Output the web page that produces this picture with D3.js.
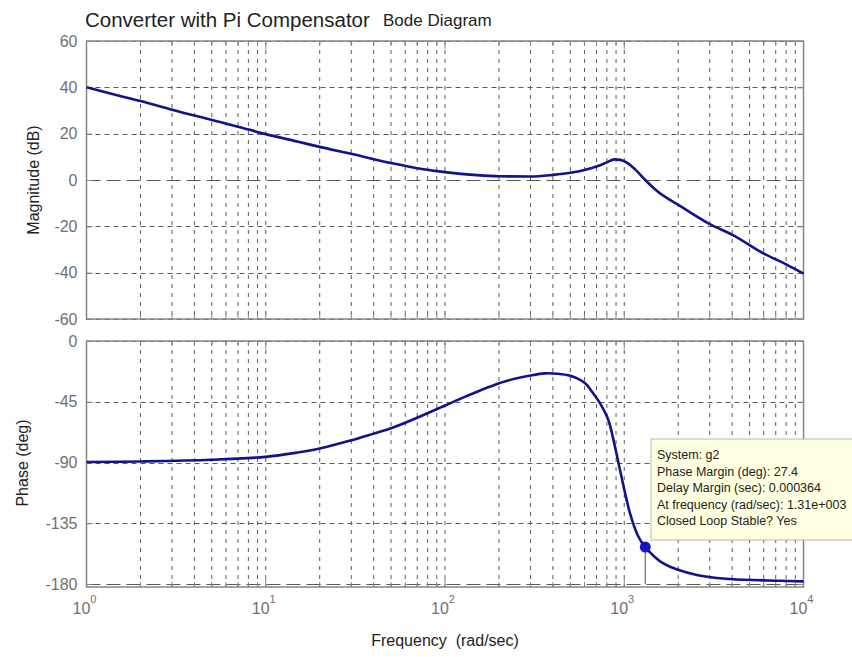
<!DOCTYPE html>
<html lang="en">
<head>
<meta charset="UTF-8">
<title>Bode Diagram</title>
<script src="https://cdn.jsdelivr.net/npm/d3@7"></script>
<style>
  body { margin: 0; background: #fff; }
  text { font-family: Arial, "Liberation Sans", sans-serif; }
</style>
</head>
<body>
<svg id="chart" width="852" height="657"></svg>
<script>
// magnitude curve
var magFreq = [1, 1.5, 2, 3, 5, 7, 10, 15, 20, 30, 50, 70, 100, 150, 200, 300, 400, 500, 600, 700, 800, 880, 950, 1050, 1150, 1310, 1500, 2056, 2945, 4064, 5980, 8000, 10000];
var magDb   = [40, 36.5, 34.1, 30.3, 25.9, 23.0, 19.8, 16.6, 14.3, 11.3, 7.3, 5.1, 3.4, 2.1, 1.6, 1.5, 2.2, 3.1, 4.3, 5.8, 7.6, 8.9, 8.7, 7.2, 4.6, 0, -4.3, -11.3, -18.7, -23.9, -31.7, -36.4, -40.4];

// phase curve
var phaseFreq = [1, 2, 5, 10, 15, 20, 30, 40, 50, 70, 100, 130, 170, 220, 300, 360, 420, 500, 600, 670, 732, 815, 880, 947, 1077, 1200, 1310, 1652, 2537, 3890, 7400, 10000];
var phaseDeg  = [-89.6, -89.2, -88, -85.8, -82.6, -79.6, -73.6, -68.6, -64.6, -56.8, -47.8, -41.2, -34.8, -29.6, -25.6, -24.0, -24.2, -25.8, -31, -38.7, -46, -58.5, -76, -95.6, -127.6, -145, -152.6, -164.7, -173.3, -176.3, -177.6, -178];

var magTicks = [60, 40, 20, 0, -20, -40, -60];
var phaseTicks = [0, -45, -90, -135, -180];
var decades = [1, 10, 100, 1000, 10000];
var decadeExp = ["0", "1", "2", "3", "4"];

var tipLines = ["System: g2", "Phase Margin (deg): 27.4", "Delay Margin (sec): 0.000364",
                "At frequency (rad/sec): 1.31e+003", "Closed Loop Stable? Yes"];
var pmFreq = 1310, pmPhase = -152.6;

var svg = d3.select("#chart");
var left = 86.5, right = 803.5;
var x = d3.scaleLog().domain([1, 1e4]).range([left, right]);
var yMag = d3.scaleLinear().domain([-60, 60]).range([319, 41]);
var yPh = d3.scaleLinear().domain([-182.2, 0]).range([587, 341]);

var gridColor = "#5a5a5a", frameColor = "#858585", tickText = "#707070";

// every 1..9 x 10^n position for the log grid
var minor = [];
decades.slice(0, 4).forEach(function (d) {
  for (var k = 1; k < 10; k++) minor.push(d * k);
});
minor.push(1e4);

function panel(y, ticks, zeroVal) {
  var top = y.range()[1], bot = y.range()[0];
  var g = svg.append("g");

  // vertical grid
  g.selectAll(".vg").data(minor.slice(1, -1)).enter().append("line")
    .attr("x1", d => x(d)).attr("x2", d => x(d))
    .attr("y1", top).attr("y2", bot)
    .attr("stroke", gridColor).attr("stroke-width", 1)
    .attr("stroke-dasharray", "4,5");

  // horizontal grid
  g.selectAll(".hg").data(ticks).enter().append("line")
    .attr("x1", left).attr("x2", right)
    .attr("y1", d => Math.round(y(d)) + 0.5).attr("y2", d => Math.round(y(d)) + 0.5)
    .attr("stroke", gridColor).attr("stroke-width", 1)
    .attr("stroke-dasharray", d => d === zeroVal ? "14,6" : "5,4");

  // minor ticks on top and bottom
  g.selectAll(".tt").data(minor).enter().append("line")
    .attr("x1", d => x(d)).attr("x2", d => x(d))
    .attr("y1", top).attr("y2", d => top + (decades.indexOf(d) >= 0 ? 8 : 5))
    .attr("stroke", frameColor);
  g.selectAll(".tb").data(minor).enter().append("line")
    .attr("x1", d => x(d)).attr("x2", d => x(d))
    .attr("y1", bot).attr("y2", d => bot - (decades.indexOf(d) >= 0 ? 8 : 5))
    .attr("stroke", frameColor);

  // y axis via d3 axis
  var ax = g.append("g").attr("transform", "translate(" + left + ",0)")
    .call(d3.axisLeft(y).tickValues(ticks).tickSize(-6).tickPadding(9)
      .tickFormat(d => String(d)));
  ax.select(".domain").remove();
  ax.selectAll(".tick line").attr("stroke", frameColor);
  ax.selectAll(".tick text").attr("fill", tickText).style("font-size", "16px")
    .style("font-family", "Arial, 'Liberation Sans', sans-serif");
  var ax2 = g.append("g").attr("transform", "translate(" + right + ",0)")
    .call(d3.axisRight(y).tickValues(ticks).tickSize(-6).tickFormat(""));
  ax2.select(".domain").remove();
  ax2.selectAll(".tick line").attr("stroke", frameColor);

  // frame
  g.append("rect").attr("x", left).attr("y", top)
    .attr("width", right - left).attr("height", bot - top)
    .attr("fill", "none").attr("stroke", frameColor).attr("stroke-width", 1.5);
  return g;
}

panel(yMag, magTicks, 0);
panel(yPh, phaseTicks, -180);

var curveColor = "#12128c";
var magLine = d3.line().x(d => x(d[0])).y(d => yMag(d[1])).curve(d3.curveMonotoneX);
svg.append("path").datum(magFreq.map((f, i) => [f, magDb[i]]))
  .attr("d", magLine).attr("fill", "none")
  .attr("stroke", curveColor).attr("stroke-width", 2.6);

var phLine = d3.line().x(d => x(d[0])).y(d => yPh(d[1])).curve(d3.curveCatmullRom.alpha(0.5));
svg.append("path").datum(phaseFreq.map((f, i) => [f, phaseDeg[i]]))
  .attr("d", phLine).attr("fill", "none")
  .attr("stroke", curveColor).attr("stroke-width", 2.6);

// phase margin marker
svg.append("line")
  .attr("x1", x(pmFreq)).attr("x2", x(pmFreq))
  .attr("y1", yPh(pmPhase)).attr("y2", yPh(-180))
  .attr("stroke", "#6a6a6a").attr("stroke-width", 1.2);
svg.append("circle").attr("cx", x(pmFreq)).attr("cy", yPh(pmPhase))
  .attr("r", 5.5).attr("fill", "#1414c8");

// data tip
var tip = svg.append("g").attr("transform", "translate(651,439)");
tip.append("rect").attr("width", 215).attr("height", 101)
  .attr("fill", "#ffffe1").attr("stroke", "#b9b9a8");
tip.selectAll("text").data(tipLines).enter().append("text")
  .attr("x", 6).attr("y", (d, i) => 20 + i * 16.6)
  .attr("fill", "#222").style("font-size", "12.5px")
  .text(d => d);

// x tick labels (bottom panel only)
var xl = svg.append("g").attr("transform", "translate(0,587)")
  .call(d3.axisBottom(x).tickValues(decades).tickSize(0).tickFormat(""));
xl.select(".domain").remove();
decades.forEach(function (d, i) {
  var t = svg.append("text").attr("x", x(d) - 2).attr("y", 614)
    .attr("text-anchor", "middle").attr("fill", tickText).style("font-size", "16px");
  t.append("tspan").text("10");
  t.append("tspan").attr("dy", -11).style("font-size", "11px").text(decadeExp[i]);
});

// titles and axis labels
svg.append("text").attr("x", 85).attr("y", 27).attr("fill", "#222")
  .style("font-size", "20.5px").text("Converter with Pi Compensator");
svg.append("text").attr("x", 383).attr("y", 26).attr("fill", "#222")
  .style("font-size", "17px").text("Bode Diagram");
svg.append("text").attr("transform", "translate(39,180) rotate(-90)")
  .attr("text-anchor", "middle").attr("fill", "#222").style("font-size", "16px")
  .text("Magnitude (dB)");
svg.append("text").attr("transform", "translate(28,463) rotate(-90)")
  .attr("text-anchor", "middle").attr("fill", "#222").style("font-size", "16px")
  .text("Phase (deg)");
svg.append("text").attr("x", 445).attr("y", 646).attr("text-anchor", "middle")
  .attr("fill", "#222").style("font-size", "16px").style("white-space", "pre")
  .text("Frequency  (rad/sec)");
</script>
</body>
</html>
